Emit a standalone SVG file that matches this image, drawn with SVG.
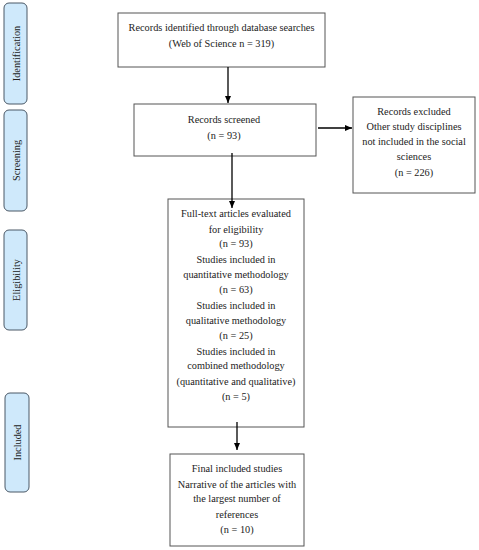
<svg xmlns="http://www.w3.org/2000/svg" width="479" height="550" viewBox="0 0 479 550">
<defs>
<marker id="ah" markerWidth="8" markerHeight="8" refX="7" refY="4" orient="auto" markerUnits="userSpaceOnUse">
<path d="M0,1 L7,4 L0,7 Z" fill="#000"/>
</marker>
<style>
.box{fill:#fff;stroke:#555;stroke-width:1}
.tab{fill:#cfe9fb;stroke:#4a5866;stroke-width:1}
.t{font-family:"Liberation Serif",serif;font-size:10.3px;fill:#222;text-anchor:middle}
.c{stroke:#000;stroke-width:1.3;fill:none;marker-end:url(#ah)}
</style>
</defs>
<rect width="479" height="550" fill="#fff"/>
<g id="tab-identification"><rect class="tab" x="4" y="3" width="23" height="101" rx="5"/><text class="t" transform="translate(19.5,53.5) rotate(-90)">Identification</text></g>
<g id="tab-screening"><rect class="tab" x="4" y="110" width="23" height="101" rx="5"/><text class="t" transform="translate(19.5,160.5) rotate(-90)">Screening</text></g>
<g id="tab-eligibility"><rect class="tab" x="4" y="230" width="23" height="100" rx="5"/><text class="t" transform="translate(19.5,280) rotate(-90)">Eligibility</text></g>
<g id="tab-included"><rect class="tab" x="5" y="393" width="24" height="99" rx="5"/><text class="t" transform="translate(21,442.5) rotate(-90)">Included</text></g>
<g id="identified"><rect class="box" x="118" y="13" width="207" height="54"/>
<text class="t" x="221.5" y="31">Records identified through database searches</text>
<text class="t" x="221.5" y="47">(Web of Science n = 319)</text></g>
<g id="screened"><rect class="box" x="134" y="104" width="182" height="52"/>
<text class="t" x="224" y="123">Records screened</text>
<text class="t" x="224" y="139">(n = 93)</text></g>
<g id="excluded"><rect class="box" x="353" y="97" width="122" height="96"/>
<text class="t" x="414" y="115">Records excluded</text>
<text class="t" x="414" y="130">Other study disciplines</text>
<text class="t" x="414" y="145">not included in the social</text>
<text class="t" x="414" y="160">sciences</text>
<text class="t" x="414" y="176">(n = 226)</text></g>
<g id="eligibility"><rect class="box" x="168" y="199" width="136" height="228"/>
<text class="t" x="236" y="217">Full-text articles evaluated</text>
<text class="t" x="236" y="233">for eligibility</text>
<text class="t" x="236" y="247">(n = 93)</text>
<text class="t" x="236" y="263">Studies included in</text>
<text class="t" x="236" y="278">quantitative methodology</text>
<text class="t" x="236" y="293">(n = 63)</text>
<text class="t" x="236" y="309">Studies included in</text>
<text class="t" x="236" y="324">qualitative methodology</text>
<text class="t" x="236" y="339">(n = 25)</text>
<text class="t" x="236" y="355">Studies included in</text>
<text class="t" x="236" y="369">combined methodology</text>
<text class="t" x="236" y="385">(quantitative and qualitative)</text>
<text class="t" x="236" y="400">(n = 5)</text></g>
<g id="included"><rect class="box" x="170" y="454" width="134" height="92"/>
<text class="t" x="237" y="472">Final included studies</text>
<text class="t" x="237" y="488">Narrative of the articles with</text>
<text class="t" x="237" y="502">the largest number of</text>
<text class="t" x="237" y="518">references</text>
<text class="t" x="237" y="533">(n = 10)</text></g>
<g id="connectors">
<line class="c" x1="228" y1="67" x2="228" y2="103"/>
<line class="c" x1="318" y1="128" x2="352" y2="128"/>
<line class="c" x1="232" y1="153" x2="232" y2="208"/>
<line class="c" x1="237" y1="422" x2="237" y2="450"/>
</g>
</svg>
